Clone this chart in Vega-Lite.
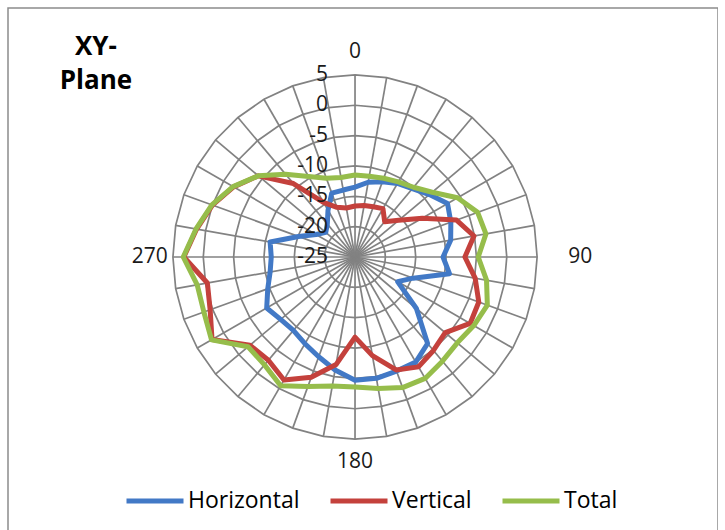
{
  "$schema": "https://vega.github.io/schema/vega-lite/v6.json",
  "width": 710,
  "height": 525,
  "autosize": "none",
  "padding": {"left": 8, "top": 8, "right": 0, "bottom": 0},
  "background": "white",
  "config": {"view": {"stroke": "#8c8c8c", "strokeWidth": 1.5}, "font": "Open Sans"},
  "title": {"text": ["XY-", "Plane"], "anchor": "start", "frame": "group", "align": "center", "baseline": "top", "dx": 88, "dy": 86, "offset": 0, "fontSize": 26, "fontWeight": "bold", "font": "Open Sans", "color": "black", "lineHeight": 34},
  "datasets": {
    "series": [
      {"a": 0, "Horizontal": -13.5, "Vertical": -16.6, "Total": -11.5},
      {"a": 10, "Horizontal": -12.5, "Vertical": -16.4, "Total": -11.5},
      {"a": 20, "Horizontal": -11.8, "Vertical": -16.2, "Total": -11.2},
      {"a": 30, "Horizontal": -11.0, "Vertical": -15.8, "Total": -10.7},
      {"a": 40, "Horizontal": -10.3, "Vertical": -17.4, "Total": -10.0},
      {"a": 50, "Horizontal": -9.0, "Vertical": -15.6, "Total": -8.4},
      {"a": 60, "Horizontal": -7.4, "Vertical": -12.2, "Total": -5.5},
      {"a": 70, "Horizontal": -8.2, "Vertical": -7.2, "Total": -3.5},
      {"a": 80, "Horizontal": -9.0, "Vertical": -5.1, "Total": -3.1},
      {"a": 90, "Horizontal": -10.5, "Vertical": -6.9, "Total": -4.7},
      {"a": 100, "Horizontal": -9.2, "Vertical": -4.9, "Total": -3.0},
      {"a": 110, "Horizontal": -14.8, "Vertical": -3.3, "Total": -1.8},
      {"a": 120, "Horizontal": -16.9, "Vertical": -3.1, "Total": -2.4},
      {"a": 130, "Horizontal": -11.8, "Vertical": -5.6, "Total": -3.0},
      {"a": 140, "Horizontal": -6.4, "Vertical": -4.9, "Total": -2.6},
      {"a": 150, "Horizontal": -5.0, "Vertical": -4.1, "Total": -1.9},
      {"a": 160, "Horizontal": -5.0, "Vertical": -5.2, "Total": -2.1},
      {"a": 170, "Horizontal": -4.7, "Vertical": -8.5, "Total": -3.0},
      {"a": 180, "Horizontal": -4.7, "Vertical": -11.8, "Total": -3.6},
      {"a": 190, "Horizontal": -6.1, "Vertical": -7.0, "Total": -3.4},
      {"a": 200, "Horizontal": -7.5, "Vertical": -3.9, "Total": -2.3},
      {"a": 210, "Horizontal": -8.5, "Vertical": -1.6, "Total": -0.5},
      {"a": 220, "Horizontal": -9.2, "Vertical": -2.8, "Total": -1.8},
      {"a": 230, "Horizontal": -9.0, "Vertical": -2.4, "Total": -2.0},
      {"a": 240, "Horizontal": -8.2, "Vertical": 2.2, "Total": 2.3},
      {"a": 250, "Horizontal": -9.7, "Vertical": 0.4, "Total": 1.5},
      {"a": 260, "Horizontal": -10.8, "Vertical": -0.3, "Total": 1.4},
      {"a": 270, "Horizontal": -11.2, "Vertical": 3.2, "Total": 3.3},
      {"a": 280, "Horizontal": -10.8, "Vertical": 1.5, "Total": 1.6},
      {"a": 290, "Horizontal": -15.1, "Vertical": 0.0, "Total": 0.1},
      {"a": 300, "Horizontal": -17.6, "Vertical": -1.9, "Total": -1.8},
      {"a": 310, "Horizontal": -18.7, "Vertical": -4.2, "Total": -4.2},
      {"a": 320, "Horizontal": -17.9, "Vertical": -9.2, "Total": -7.2},
      {"a": 330, "Horizontal": -16.1, "Vertical": -14.6, "Total": -9.7},
      {"a": 340, "Horizontal": -13.8, "Vertical": -16.3, "Total": -11.2},
      {"a": 350, "Horizontal": -13.8, "Vertical": -16.8, "Total": -11.7}
    ],
    "grid": [
      {"level": -20, "a": [0,10,20,30,40,50,60,70,80,90,100,110,120,130,140,150,160,170,180,190,200,210,220,230,240,250,260,270,280,290,300,310,320,330,340,350]},
      {"level": -15, "a": [0,10,20,30,40,50,60,70,80,90,100,110,120,130,140,150,160,170,180,190,200,210,220,230,240,250,260,270,280,290,300,310,320,330,340,350]},
      {"level": -10, "a": [0,10,20,30,40,50,60,70,80,90,100,110,120,130,140,150,160,170,180,190,200,210,220,230,240,250,260,270,280,290,300,310,320,330,340,350]},
      {"level": -5, "a": [0,10,20,30,40,50,60,70,80,90,100,110,120,130,140,150,160,170,180,190,200,210,220,230,240,250,260,270,280,290,300,310,320,330,340,350]},
      {"level": 0, "a": [0,10,20,30,40,50,60,70,80,90,100,110,120,130,140,150,160,170,180,190,200,210,220,230,240,250,260,270,280,290,300,310,320,330,340,350]},
      {"level": 5, "a": [0,10,20,30,40,50,60,70,80,90,100,110,120,130,140,150,160,170,180,190,200,210,220,230,240,250,260,270,280,290,300,310,320,330,340,350]}
    ],
    "spokes": [
      {"a": 0}, {"a": 10}, {"a": 20}, {"a": 30}, {"a": 40}, {"a": 50}, {"a": 60}, {"a": 70}, {"a": 80}, {"a": 90}, {"a": 100}, {"a": 110},
      {"a": 120}, {"a": 130}, {"a": 140}, {"a": 150}, {"a": 160}, {"a": 170}, {"a": 180}, {"a": 190}, {"a": 200}, {"a": 210}, {"a": 220}, {"a": 230},
      {"a": 240}, {"a": 250}, {"a": 260}, {"a": 270}, {"a": 280}, {"a": 290}, {"a": 300}, {"a": 310}, {"a": 320}, {"a": 330}, {"a": 340}, {"a": 350}
    ],
    "rlabels": [
      {"t": "5", "v": 5}, {"t": "0", "v": 0}, {"t": "-5", "v": -5}, {"t": "-10", "v": -10},
      {"t": "-15", "v": -15}, {"t": "-20", "v": -20}, {"t": "-25", "v": -25}
    ],
    "alabels": [
      {"t": "0", "a": 0}, {"t": "90", "a": 90}, {"t": "180", "a": 180}, {"t": "270", "a": 270}
    ]
  },
  "layer": [
    {
      "data": {"name": "grid"},
      "transform": [
        {"flatten": ["a"]},
        {"calculate": "(datum.level + 25) * sin(datum.a * PI / 180)", "as": "x"},
        {"calculate": "(datum.level + 25) * cos(datum.a * PI / 180)", "as": "y"}
      ],
      "mark": {"type": "line", "interpolate": "linear-closed", "stroke": "#828282", "strokeWidth": 1.7},
      "encoding": {
        "x": {"field": "x", "type": "quantitative", "scale": {"domain": [-57.17, 59.8], "nice": false, "zero": false}, "axis": null},
        "y": {"field": "y", "type": "quantitative", "scale": {"domain": [-45.47, 41.02], "nice": false, "zero": false}, "axis": null},
        "detail": {"field": "level", "type": "nominal"},
        "order": {"field": "a", "type": "quantitative"}
      }
    },
    {
      "data": {"name": "spokes"},
      "transform": [
        {"calculate": "0", "as": "x"},
        {"calculate": "0", "as": "y"},
        {"calculate": "30 * sin(datum.a * PI / 180)", "as": "x2"},
        {"calculate": "30 * cos(datum.a * PI / 180)", "as": "y2"}
      ],
      "mark": {"type": "rule", "stroke": "#828282", "strokeWidth": 1.7},
      "encoding": {
        "x": {"field": "x", "type": "quantitative"},
        "y": {"field": "y", "type": "quantitative"},
        "x2": {"field": "x2"},
        "y2": {"field": "y2"}
      }
    },
    {
      "data": {"name": "series"},
      "transform": [
        {"fold": ["Horizontal", "Vertical", "Total"], "as": ["s", "v"]},
        {"filter": "datum.s === 'Horizontal'"},
        {"calculate": "(datum.v + 25) * sin(datum.a * PI / 180)", "as": "x"},
        {"calculate": "(datum.v + 25) * cos(datum.a * PI / 180)", "as": "y"}
      ],
      "mark": {"type": "line", "interpolate": "linear-closed", "strokeWidth": 5, "strokeJoin": "round"},
      "encoding": {
        "x": {"field": "x", "type": "quantitative"},
        "y": {"field": "y", "type": "quantitative"},
        "order": {"field": "a", "type": "quantitative"},
        "color": {"field": "s", "type": "nominal", "scale": {"domain": ["Horizontal", "Vertical", "Total"], "range": ["#4279C6", "#C4413C", "#96BD4B"]},
          "legend": {"title": null, "orient": "none", "legendX": 116, "legendY": 462, "direction": "horizontal", "symbolType": "stroke", "symbolSize": 3249, "symbolStrokeWidth": 5, "labelFontSize": 23, "labelFont": "Open Sans", "labelColor": "black", "labelOffset": 2, "columnPadding": 20}}
      }
    },
    {
      "data": {"name": "series"},
      "transform": [
        {"fold": ["Horizontal", "Vertical", "Total"], "as": ["s", "v"]},
        {"filter": "datum.s === 'Vertical'"},
        {"calculate": "(datum.v + 25) * sin(datum.a * PI / 180)", "as": "x"},
        {"calculate": "(datum.v + 25) * cos(datum.a * PI / 180)", "as": "y"}
      ],
      "mark": {"type": "line", "interpolate": "linear-closed", "strokeWidth": 5, "strokeJoin": "round"},
      "encoding": {
        "x": {"field": "x", "type": "quantitative"},
        "y": {"field": "y", "type": "quantitative"},
        "order": {"field": "a", "type": "quantitative"},
        "color": {"field": "s", "type": "nominal"}
      }
    },
    {
      "data": {"name": "series"},
      "transform": [
        {"fold": ["Horizontal", "Vertical", "Total"], "as": ["s", "v"]},
        {"filter": "datum.s === 'Total'"},
        {"calculate": "(datum.v + 25) * sin(datum.a * PI / 180)", "as": "x"},
        {"calculate": "(datum.v + 25) * cos(datum.a * PI / 180)", "as": "y"}
      ],
      "mark": {"type": "line", "interpolate": "linear-closed", "strokeWidth": 5, "strokeJoin": "round"},
      "encoding": {
        "x": {"field": "x", "type": "quantitative"},
        "y": {"field": "y", "type": "quantitative"},
        "order": {"field": "a", "type": "quantitative"},
        "color": {"field": "s", "type": "nominal"}
      }
    },
    {
      "data": {"name": "rlabels"},
      "transform": [
        {"calculate": "-4.45", "as": "x"},
        {"calculate": "datum.v + 25", "as": "y"}
      ],
      "mark": {"type": "text", "align": "right", "baseline": "middle", "fontSize": 21, "font": "Open Sans", "color": "#1a1a1a"},
      "encoding": {
        "x": {"field": "x", "type": "quantitative"},
        "y": {"field": "y", "type": "quantitative"},
        "text": {"field": "t", "type": "nominal"}
      }
    },
    {
      "data": {"name": "alabels"},
      "transform": [
        {"filter": "datum.a !== 90"},
        {"calculate": "33.8 * sin(datum.a * PI / 180)", "as": "x"},
        {"calculate": "33.8 * cos(datum.a * PI / 180)", "as": "y"}
      ],
      "mark": {"type": "text", "align": "center", "baseline": "middle", "fontSize": 21, "font": "Open Sans", "color": "#1a1a1a"},
      "encoding": {
        "x": {"field": "x", "type": "quantitative"},
        "y": {"field": "y", "type": "quantitative"},
        "text": {"field": "t", "type": "nominal"}
      }
    },
    {
      "data": {"name": "alabels"},
      "transform": [
        {"filter": "datum.a === 90"},
        {"calculate": "33.8 * sin(datum.a * PI / 180)", "as": "x"},
        {"calculate": "33.8 * cos(datum.a * PI / 180)", "as": "y"}
      ],
      "mark": {"type": "text", "align": "center", "baseline": "middle", "dx": 20, "fontSize": 21, "font": "Open Sans", "color": "#1a1a1a"},
      "encoding": {
        "x": {"field": "x", "type": "quantitative"},
        "y": {"field": "y", "type": "quantitative"},
        "text": {"field": "t", "type": "nominal"}
      }
    }
  ]
}
